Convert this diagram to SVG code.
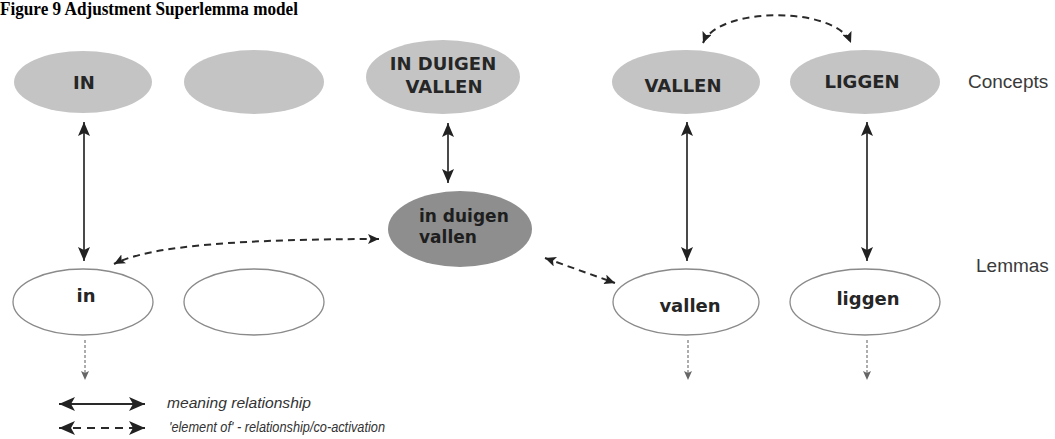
<svg xmlns="http://www.w3.org/2000/svg" width="1055" height="439" viewBox="0 0 1055 439">
  <style>
    .bg { fill: #ffffff; }
    .concept { fill: #c4c4c4; stroke: none; }
    .super { fill: #8e8e8e; stroke: none; }
    .lemma { fill: #ffffff; stroke: #8a8a8a; stroke-width: 1.3; }
    .lbl { font-family: "DejaVu Sans", Verdana, sans-serif; font-weight: bold; fill: #262626; font-size: 18px; text-anchor: middle; }
    .lbl-s { font-family: "DejaVu Sans", Verdana, sans-serif; font-weight: bold; fill: #1e1e1e; font-size: 17px; }
    .level { font-family: "Liberation Sans", Arial, sans-serif; fill: #3a3a3a; font-size: 19px; }
    .title { font-family: "Liberation Serif", "Times New Roman", serif; font-weight: bold; fill: #000; font-size: 19px; }
    .legend { font-family: "Liberation Sans", Arial, sans-serif; font-style: italic; fill: #333; font-size: 14.5px; }
    .solid { stroke: #2a2a2a; stroke-width: 1.7; fill: none; marker-start: url(#head); marker-end: url(#head); }
    .dash { stroke: #2a2a2a; stroke-width: 2; stroke-dasharray: 7 5; fill: none; marker-start: url(#dhead); marker-end: url(#dhead); }
    .down { stroke: #777; stroke-width: 1.2; stroke-dasharray: 3 2; fill: none; marker-end: url(#shead); }
  </style>
  <defs>
    <marker id="head" viewBox="0 0 14 12" refX="14" refY="6" markerWidth="14" markerHeight="12" markerUnits="userSpaceOnUse" orient="auto-start-reverse">
      <path d="M0,0 L14,6 L0,12 L3,6 z" fill="#222"/>
    </marker>
    <marker id="dhead" viewBox="0 0 11 10" refX="11" refY="5" markerWidth="11" markerHeight="10" markerUnits="userSpaceOnUse" orient="auto-start-reverse">
      <path d="M0,0 L11,5 L0,10 L2.5,5 z" fill="#222"/>
    </marker>
    <marker id="shead" viewBox="0 0 9 8" refX="9" refY="4" markerWidth="9" markerHeight="8" markerUnits="userSpaceOnUse" orient="auto">
      <path d="M0,0 L9,4 L0,8 L2,4 z" fill="#666"/>
    </marker>
    <marker id="lhead" viewBox="0 0 16 14" refX="16" refY="7" markerWidth="16" markerHeight="14" markerUnits="userSpaceOnUse" orient="auto-start-reverse">
      <path d="M0,0 L16,7 L0,14 L4,7 z" fill="#222"/>
    </marker>
  </defs>

  <rect class="bg" x="0" y="0" width="1055" height="439"/>

  <text class="title" x="0" y="15" textLength="298" lengthAdjust="spacingAndGlyphs">Figure 9 Adjustment Superlemma model</text>

  <!-- concept level -->
  <g id="concept-in">
    <ellipse class="concept" cx="83" cy="82" rx="69" ry="31"/>
    <text class="lbl" x="84" y="89">IN</text>
  </g>
  <g id="concept-empty">
    <ellipse class="concept" cx="254" cy="82" rx="70" ry="32"/>
  </g>
  <g id="concept-in-duigen-vallen">
    <ellipse class="concept" cx="443" cy="77" rx="77" ry="37"/>
    <text class="lbl" x="443" y="70">IN DUIGEN</text>
    <text class="lbl" x="444" y="93">VALLEN</text>
  </g>
  <g id="concept-vallen">
    <ellipse class="concept" cx="686" cy="82" rx="74" ry="32"/>
    <text class="lbl" x="683" y="92">VALLEN</text>
  </g>
  <g id="concept-liggen">
    <ellipse class="concept" cx="865" cy="82" rx="75" ry="32"/>
    <text class="lbl" x="862" y="88">LIGGEN</text>
  </g>
  <text class="level" x="968" y="88">Concepts</text>

  <!-- superlemma -->
  <g id="superlemma">
    <ellipse class="super" cx="460" cy="229" rx="72" ry="38"/>
    <text class="lbl-s" x="419" y="222">in duigen</text>
    <text class="lbl-s" x="419" y="243">vallen</text>
  </g>

  <!-- lemma level -->
  <g id="lemma-in">
    <ellipse class="lemma" cx="83" cy="302" rx="70" ry="33"/>
    <text class="lbl" x="86" y="302">in</text>
  </g>
  <g id="lemma-empty">
    <ellipse class="lemma" cx="254" cy="302" rx="70" ry="33"/>
  </g>
  <g id="lemma-vallen">
    <ellipse class="lemma" cx="686" cy="302" rx="73" ry="33"/>
    <text class="lbl" x="690" y="312">vallen</text>
  </g>
  <g id="lemma-liggen">
    <ellipse class="lemma" cx="865" cy="302" rx="75" ry="33"/>
    <text class="lbl" x="868" y="305">liggen</text>
  </g>
  <text class="level" x="976" y="272">Lemmas</text>

  <!-- connectors -->
  <g id="connectors">
    <line class="solid" x1="84" y1="122" x2="84" y2="261"/>
    <line class="solid" x1="448" y1="123" x2="448" y2="183"/>
    <line class="solid" x1="687" y1="122" x2="687" y2="261"/>
    <line class="solid" x1="867" y1="122" x2="867" y2="261"/>

    <path class="dash" d="M703,43 C718,6 836,6 851,43"/>
    <path class="dash" d="M379,239 C250,239 150,245 114,264"/>
    <line class="dash" x1="545" y1="258" x2="615" y2="283"/>

    <line class="down" x1="85" y1="340" x2="85" y2="380"/>
    <line class="down" x1="688" y1="340" x2="688" y2="380"/>
    <line class="down" x1="867" y1="340" x2="867" y2="380"/>
  </g>

  <!-- legend -->
  <g id="legend">
    <line x1="59" y1="404" x2="145" y2="404" stroke="#2a2a2a" stroke-width="1.8" marker-start="url(#lhead)" marker-end="url(#lhead)"/>
    <text class="legend" x="167" y="408" textLength="144" lengthAdjust="spacingAndGlyphs">meaning relationship</text>
    <line x1="59" y1="428" x2="145" y2="428" stroke="#2a2a2a" stroke-width="2" stroke-dasharray="8 6" marker-start="url(#lhead)" marker-end="url(#lhead)"/>
    <text class="legend" x="169" y="432" textLength="216" lengthAdjust="spacingAndGlyphs">'element of' - relationship/co-activation</text>
  </g>
</svg>
